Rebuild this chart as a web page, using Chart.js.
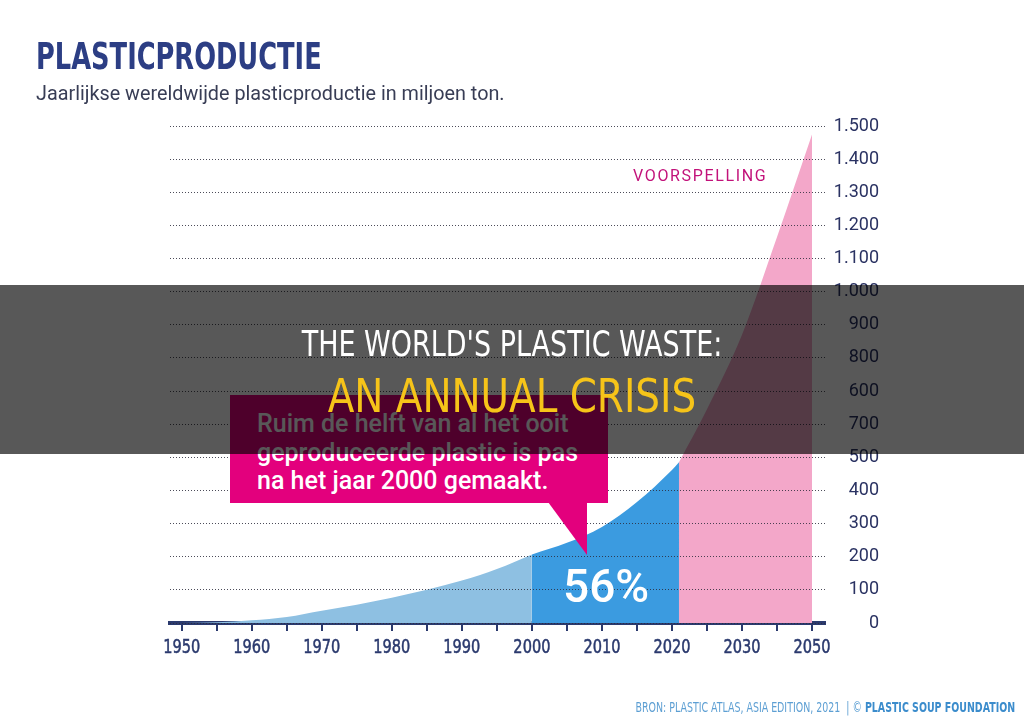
<!DOCTYPE html>
<html>
<head>
<meta charset="utf-8">
<script src="https://cdn.jsdelivr.net/npm/chart.js@4.4.0/dist/chart.umd.min.js"></script>
<style>
html,body{margin:0;padding:0;background:#fff;}
#wrap{position:relative;width:1024px;height:721px;overflow:hidden;background:#fff;}
#c{position:absolute;left:0;top:0;}
.abs{position:absolute;white-space:nowrap;}
.narrow{font-family:"DejaVu Sans Condensed","Liberation Sans Narrow","Liberation Sans",sans-serif;}
#title{left:36px;top:35px;font-size:37px;font-weight:bold;line-height:44px;color:#2c3e84;transform:scaleX(0.772);transform-origin:0 50%;}
#sub{left:36px;top:82px;font:400 19.8px Roboto,sans-serif;line-height:24px;color:#383d55;}
#box{left:230px;top:395px;width:378px;height:108px;background:#e3007d;}
#tail{left:548px;top:502px;width:39px;height:53px;background:#e3007d;clip-path:polygon(0 0,100% 0,100% 100%);}
#boxtxt{left:257px;top:410px;font:500 25px Roboto,sans-serif;line-height:28.5px;color:#fff;}
#pct{left:563px;top:559px;font:500 46px Roboto,sans-serif;line-height:54px;color:#fff;}
#fc{left:633px;top:166px;font:400 16px Roboto,sans-serif;line-height:20px;letter-spacing:1.65px;color:#c2127a;}
#band{left:0;top:285px;width:1024px;height:169px;background:rgba(0,0,0,0.655);}
#l1{left:0;width:1024px;text-align:center;top:323px;font-size:36px;line-height:42px;color:#fff;transform:scaleX(0.833);transform-origin:512px 50%;}
#l2{left:0;width:1024px;text-align:center;top:369px;font-size:46px;line-height:54px;color:#f6c419;transform:scaleX(0.94);transform-origin:512px 50%;}
#src{right:9px;top:699px;font-size:14px;line-height:16px;color:#5d9fd3;transform:scaleX(0.75);transform-origin:100% 50%;}
#src b{color:#3b8ccc;}
</style>
</head>
<body>
<div id="wrap">
<canvas id="c" width="1024" height="721"></canvas>
<div class="abs narrow" id="title">PLASTICPRODUCTIE</div>
<div class="abs" id="sub">Jaarlijkse wereldwijde plasticproductie in miljoen ton.</div>
<div class="abs" id="fc">VOORSPELLING</div>
<div class="abs" id="box"></div>
<div class="abs" id="tail"></div>
<div class="abs" id="boxtxt">Ruim de helft van al het ooit<br>geproduceerde plastic is pas<br>na het jaar 2000 gemaakt.</div>
<div class="abs" id="pct">56%</div>
<div class="abs" id="band"></div>
<div class="abs narrow" id="l1">THE WORLD'S PLASTIC WASTE:</div>
<div class="abs narrow" id="l2">AN ANNUAL CRISIS</div>
<div class="abs narrow" id="src">BRON: PLASTIC ATLAS, ASIA EDITION, 2021 &nbsp;| © <b>PLASTIC SOUP FOUNDATION</b></div>
</div>
<script>
// ---- data ----
const tickYears = [1950,1955,1960,1965,1970,1975,1980,1985,1990,1995,2000,2005,2010,2015,2020,2025,2030,2040,2050];
const years      = [1950,1955,1960,1965,1970,1975,1980,1985,1990,1995,2000,2005,2010,2015,2020,2021,2025,2030,2040,2050];
const production = [0,   2,   8,   18,  37,  55,  76,  100, 128, 163, 207, 242, 290, 365, 462, 485, 645, 870, 1165,1475];
const splitYears = [2000, 2021];
const yTickLabels = ['0','100','200','300','400','500','700','600','800','900','1.000','1.100','1.200','1.300','1.400','1.500'];
const areaColors = ['#8ec0e2', '#3b9be0', '#f3a7c9'];

// axis position of a year along the (compressed) tick sequence
function pos(year){
  for (let i = 0; i < tickYears.length - 1; i++) {
    if (year <= tickYears[i+1]) return i + (year - tickYears[i]) / (tickYears[i+1] - tickYears[i]);
  }
  return tickYears.length - 1;
}
function xLabel(v){
  return (Number.isInteger(v) && v % 2 === 0 && tickYears[v] !== undefined) ? String(tickYears[v]) : '';
}
const bounds = [years[0], ...splitYears, years[years.length-1]];
const datasets = areaColors.map((col, k) => ({
  data: years.map((y, i) => ({x: pos(y), y: production[i]})).filter((p, i) => years[i] >= bounds[k] && years[i] <= bounds[k+1]),
  backgroundColor: col,
  borderWidth: 0,
  pointRadius: 0,
  fill: 'origin',
  cubicInterpolationMode: 'monotone'
}));

const navy = '#2b3a6e';
// condensed x tick labels, placed through the x scale
const condensedXLabels = {
  id: 'condensedXLabels',
  afterDraw(chart) {
    const s = chart.scales.x, ctx = chart.ctx;
    ctx.save();
    ctx.fillStyle = navy;
    ctx.strokeStyle = navy;
    ctx.lineWidth = 0.5;
    ctx.font = '19.5px "DejaVu Sans Condensed", "Liberation Sans", sans-serif';
    ctx.textAlign = 'center';
    ctx.textBaseline = 'alphabetic';
    s.ticks.forEach(t => {
      const label = xLabel(t.value);
      if (!label) return;
      ctx.save();
      ctx.translate(s.getPixelForValue(t.value), s.top + 30);
      ctx.scale(0.83, 1);
      ctx.fillText(label, 0, 0);
      ctx.strokeText(label, 0, 0);
      ctx.restore();
    });
    ctx.restore();
  }
};

new Chart(document.getElementById('c'), {
  type: 'line',
  data: {datasets},
  plugins: [condensedXLabels],
  options: {
    responsive: false,
    animation: false,
    devicePixelRatio: 1,
    layout: {padding: {left: 170, right: 145, top: 126, bottom: 58}},
    plugins: {legend: {display: false}, tooltip: {enabled: false}},
    scales: {
      x: {
        type: 'linear',
        min: -0.334,
        max: 18.37,
        afterFit: s => { s.height = 40; },
        ticks: {stepSize: 1, includeBounds: false, autoSkip: false, maxRotation: 0, display: false, callback: v => xLabel(v)},
        grid: {display: true, drawOnChartArea: false, drawTicks: true, tickLength: 8, tickWidth: 2, tickColor: navy, color: navy, lineWidth: 2},
        border: {display: true, color: navy, width: 4}
      },
      y: {
        position: 'right',
        min: 0,
        max: 1500,
        afterFit: s => { s.width = 54; },
        ticks: {
          stepSize: 100, autoSkip: false, crossAlign: 'far', padding: 0,
          color: '#2a3262',
          font: {family: 'Roboto, sans-serif', size: 18},
          callback: v => yTickLabels[Math.round(v / 100)]
        },
        grid: {drawTicks: false, color: 'rgba(45,45,60,0.85)', lineWidth: 1, z: 1},
        border: {display: false, dash: [1, 2]}
      }
    }
  }
});
</script>
</body>
</html>
